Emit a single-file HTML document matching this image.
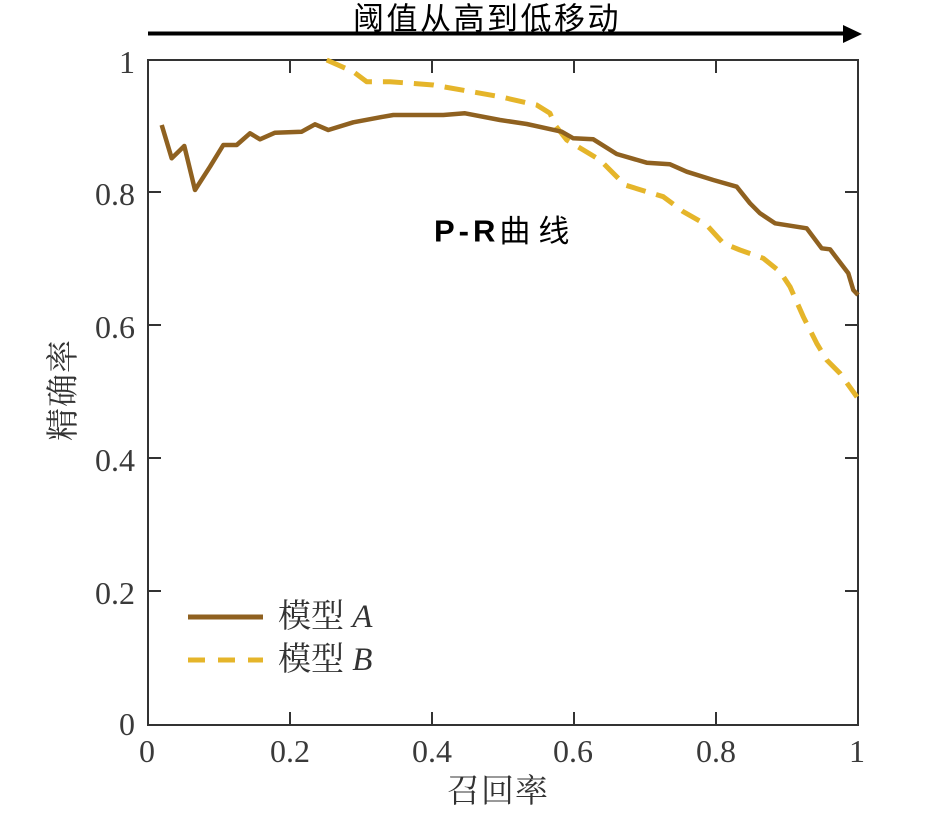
<!DOCTYPE html>
<html><head><meta charset="utf-8"><style>
html,body{margin:0;padding:0;background:#fff;}
svg{display:block;}
.tick{font-family:"Liberation Serif","Noto Serif CJK SC",serif;font-size:32px;fill:#3a3a3a;}
.cjk{font-family:"Liberation Serif","Noto Serif CJK SC",serif;font-size:33px;fill:#333;}
</style></head><body>
<svg width="943" height="813" viewBox="0 0 943 813" xmlns="http://www.w3.org/2000/svg">
<rect width="943" height="813" fill="#fff"/>
<!-- top arrow -->
<line x1="148" y1="33.5" x2="846" y2="33.5" stroke="#000" stroke-width="4"/>
<polygon points="843,25 862,34 843,43" fill="#000"/>
<text x="487" y="19" text-anchor="middle" dominant-baseline="central" style="font-family:'Liberation Sans','Noto Sans CJK SC',sans-serif;font-size:31px;letter-spacing:2.5px;fill:#000">阈值从高到低移动</text>
<!-- frame -->
<rect x="148" y="60" width="710" height="665" fill="none" stroke="#333" stroke-width="2"/>
<!-- ticks -->
<g stroke="#333" stroke-width="2">
<line x1="290" y1="60" x2="290" y2="73"/><line x1="432" y1="60" x2="432" y2="73"/><line x1="574" y1="60" x2="574" y2="73"/><line x1="716" y1="60" x2="716" y2="73"/>
<line x1="290" y1="725" x2="290" y2="712"/><line x1="432" y1="725" x2="432" y2="712"/><line x1="574" y1="725" x2="574" y2="712"/><line x1="716" y1="725" x2="716" y2="712"/>
<line x1="148" y1="192" x2="161" y2="192"/><line x1="148" y1="325" x2="161" y2="325"/><line x1="148" y1="458" x2="161" y2="458"/><line x1="148" y1="591" x2="161" y2="591"/>
<line x1="858" y1="192" x2="845" y2="192"/><line x1="858" y1="325" x2="845" y2="325"/><line x1="858" y1="458" x2="845" y2="458"/><line x1="858" y1="591" x2="845" y2="591"/>
</g>
<!-- y tick labels -->
<g class="tick" text-anchor="end" dominant-baseline="central">
<text x="135" y="62">1</text>
<text x="135" y="194">0.8</text>
<text x="135" y="327">0.6</text>
<text x="135" y="460">0.4</text>
<text x="135" y="593">0.2</text>
<text x="135" y="724">0</text>
</g>
<!-- x tick labels -->
<g class="tick" text-anchor="middle" dominant-baseline="central">
<text x="147" y="751">0</text>
<text x="290" y="751">0.2</text>
<text x="432" y="751">0.4</text>
<text x="573" y="751">0.6</text>
<text x="716" y="751">0.8</text>
<text x="857" y="751">1</text>
</g>
<!-- axis labels -->
<text class="cjk" x="498" y="792" text-anchor="middle" dominant-baseline="central" letter-spacing="1">召回率</text>
<text class="cjk" x="0" y="0" text-anchor="middle" dominant-baseline="central" letter-spacing="1" transform="translate(64,390) rotate(-90)">精确率</text>
<!-- title -->
<text x="434" y="231" dominant-baseline="central" style="font-family:'Liberation Sans','Noto Sans CJK SC',sans-serif;font-size:31px;font-weight:bold;letter-spacing:4px;fill:#000">P-R<tspan style="font-weight:normal;letter-spacing:8px">曲线</tspan></text>
<!-- series B -->
<polyline fill="none" stroke="#e5b52a" stroke-width="5" stroke-dasharray="20 11" stroke-linejoin="round"
points="326.7,60 353.3,71.7 366.7,81.7 390,81.7 433.3,85 500,96.7 536.7,105 550,113.3 555,125 566.7,140 600,160 625,185 646.7,191.7 663.3,196.7 683.3,211.7 706.7,225 723.3,243.3 740,250 763.3,258.3 780,271.7 790,286.7 803.3,316.7 816.7,343.3 826.7,360 840,373.3 857,397"/>
<!-- series A -->
<polyline fill="none" stroke="#8f6120" stroke-width="4.5" stroke-linejoin="round"
points="161.7,125 171.7,158.3 184.3,146 195,190 210,166.7 223.3,145 236.7,145 250,133.3 260,139.3 275,132.7 301.7,131.7 315,124.3 328.3,130 353.3,122.3 380,117.3 393.3,115 443.3,115 465,113.3 500,120 526.7,124 561.7,131.7 573.3,138.3 593.3,139.3 616.7,154 646.7,162.7 670,164.3 686.7,171.7 713.3,180 736.7,186.7 750,203.3 760,213.3 775,223.3 806.7,228.3 821.7,248.3 830,249.3 848.3,273.3 853.3,290 858,295"/>
<!-- legend -->
<line x1="188" y1="617" x2="263" y2="617" stroke="#8f6120" stroke-width="5"/>
<line x1="188" y1="660" x2="263" y2="660" stroke="#e5b52a" stroke-width="5" stroke-dasharray="17 13"/>
<text class="cjk" x="278" y="617" dominant-baseline="central">模型 <tspan font-style="italic">A</tspan></text>
<text class="cjk" x="278" y="660" dominant-baseline="central">模型 <tspan font-style="italic">B</tspan></text>
</svg>
</body></html>
